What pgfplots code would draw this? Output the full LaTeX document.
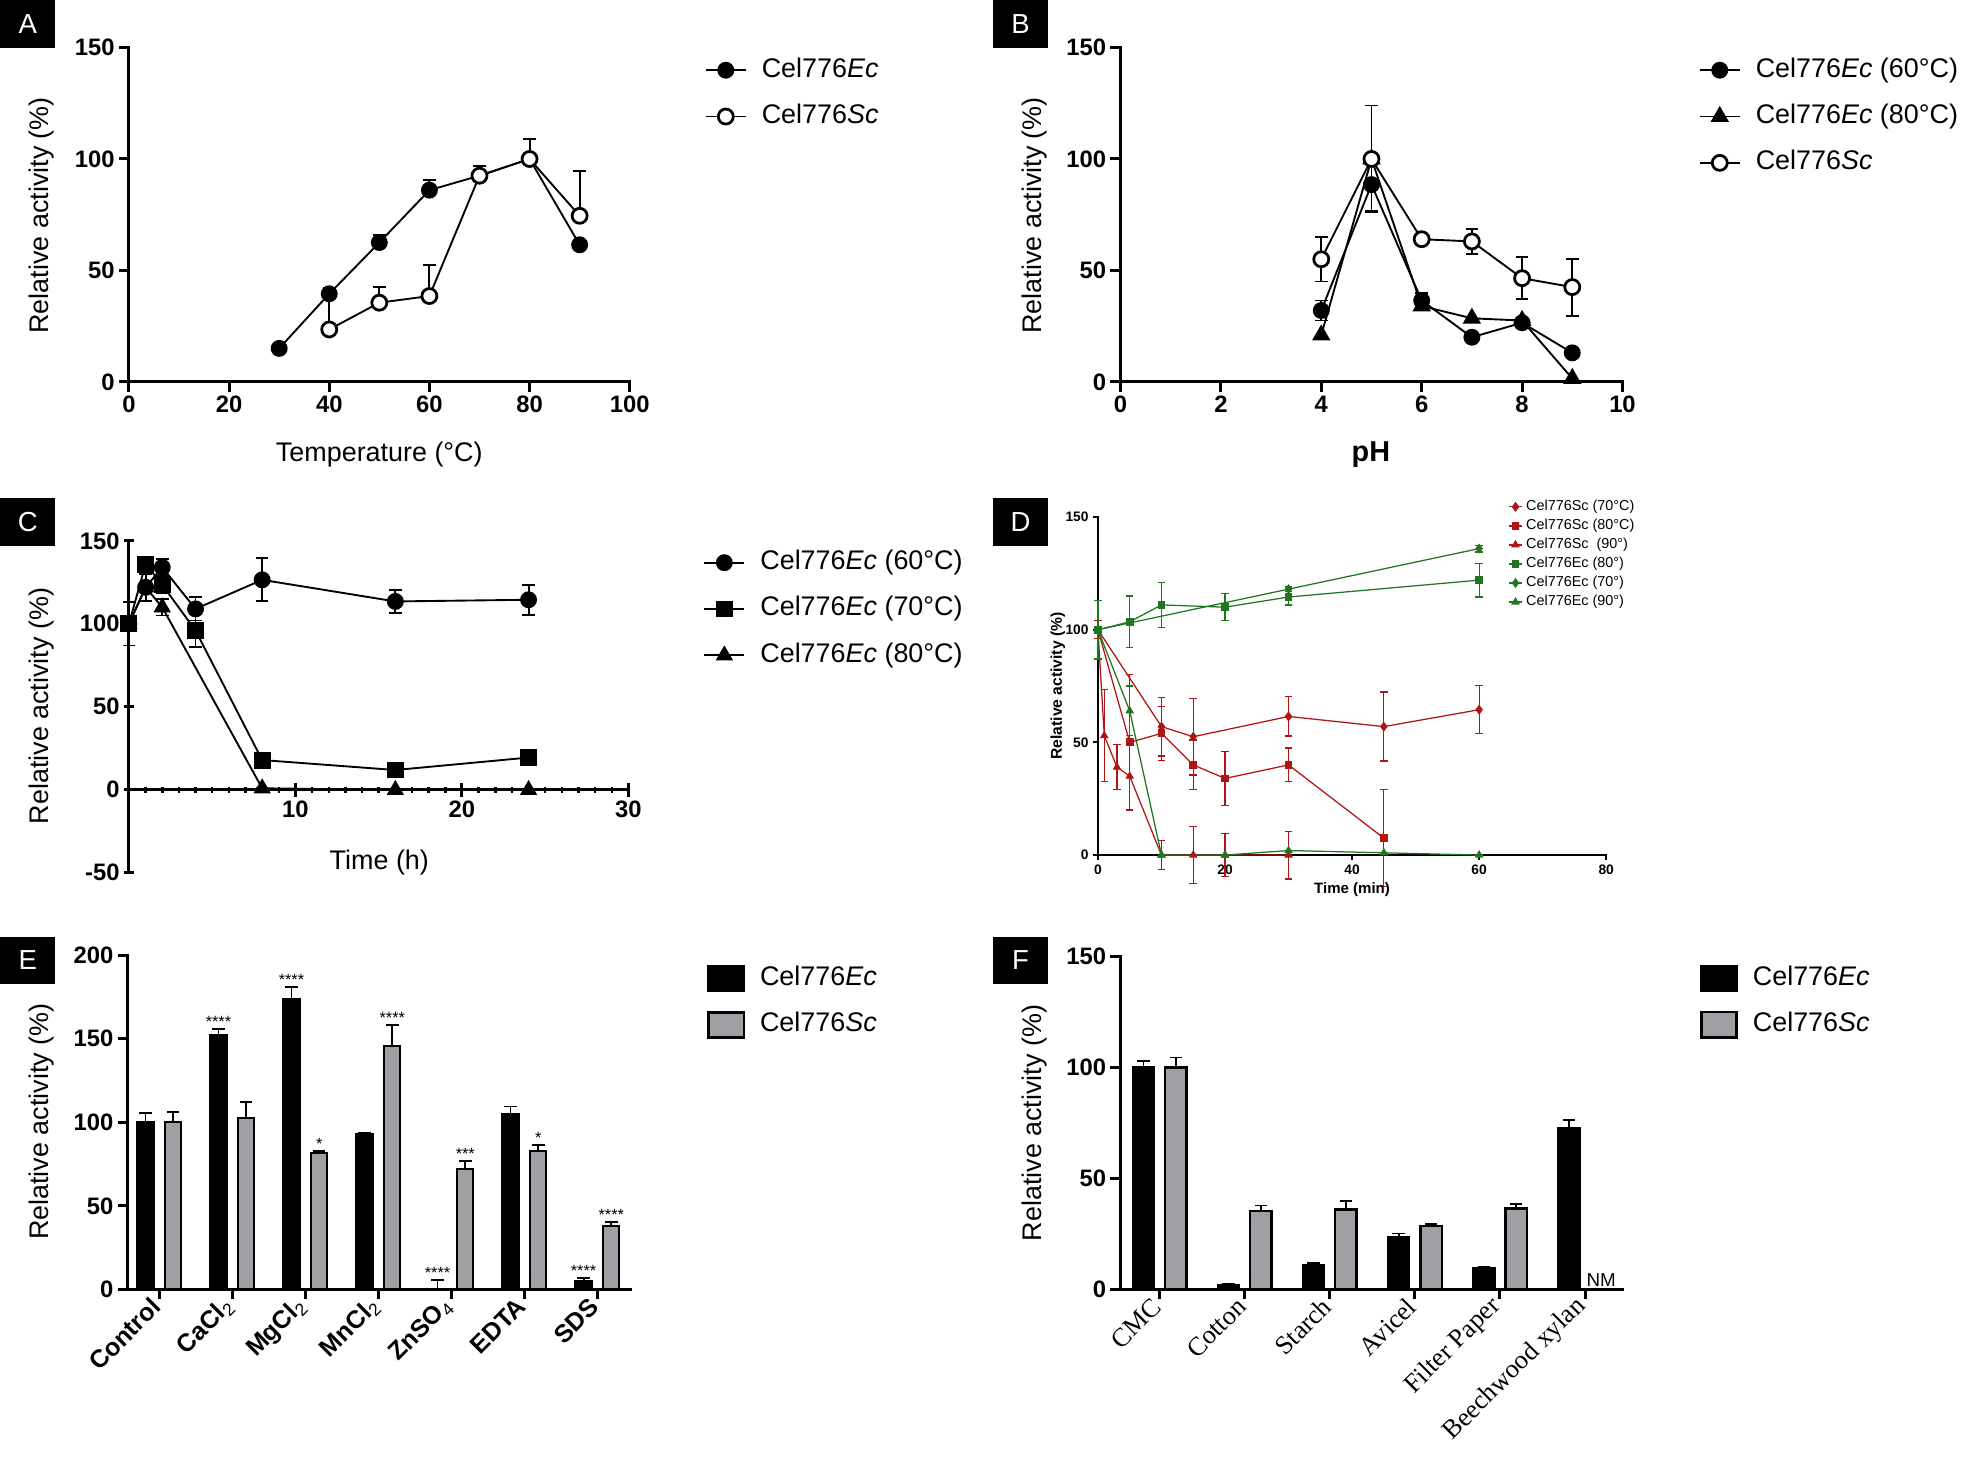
\documentclass[border=0pt]{standalone}
\usepackage{pgfplots}
\pgfplotsset{compat=1.18}
\usepackage{fontspec}
\setmainfont{Liberation Sans}
\newfontfamily\timesf{Liberation Serif}

\definecolor{dred}{RGB}{176,20,20}
\definecolor{dgreen}{RGB}{32,118,32}
\definecolor{bargray}{RGB}{160,160,164}
\newcommand{\fs}[1]{\fontsize{#1}{#1}\selectfont}

\pgfplotsset{
  prism/.style={
    scale only axis, clip=false, anchor=south west,
    axis lines=left, axis line style={-, line width=2.4pt, line cap=rect},
    tick style={line width=2.4pt, black}, tick align=outside,
    major tick length=8pt, minor tick length=6pt,
    ticklabel style={font=\bfseries\fs{19}},
    /pgf/number format/assume math mode=true,
    legend cell align=left,
    legend style={draw=none, fill=none, inner sep=0pt, outer sep=0pt, anchor=north west,
      font=\fs{21.5}, row sep=12pt,
      nodes={inner sep=2pt, text height=16pt, text depth=5pt},
      /tikz/every odd column/.append style={column sep=10pt}},
    every axis plot/.append style={line width=1.5pt, black},
    error bars/error bar style={line width=1.5pt, black},
    error bars/error mark options={rotate=90, mark size=5pt, line width=1.5pt, black},
  },
  linelegend/.style={legend image code/.code={\draw[mark repeat=2,mark phase=2,##1] plot coordinates {(0pt,0pt) (16pt,0pt) (32pt,0pt)};}},
  smalllegend/.style={legend image code/.code={\draw[mark repeat=2,mark phase=2,##1] plot coordinates {(0pt,0pt) (5pt,0pt) (10pt,0pt)};}},
  barlegend/.style={legend image code/.code={\draw[##1, line width=2pt] (0pt,-10pt) rectangle (28pt,10pt);}},
  openc/.style={mark=*, mark size=6pt, mark options={fill=white, line width=2.2pt}},
  fullc/.style={mark=*, mark size=6pt},
}

\begin{document}
\begin{tikzpicture}
\useasboundingbox (0,0) rectangle (1568pt,1164pt);

% ---------- A: temperature ----------
\begin{axis}[prism, linelegend, at={(103pt,859pt)}, width=400pt, height=267pt,
  xmin=0, xmax=100, ymin=0, ymax=150, xtick={0,20,...,100}, ytick={0,50,100,150},
  legend style={at={(axis description cs:1.15,0.979)}}]
\addplot[fullc, error bars/.cd, y dir=plus, y explicit] table[x=x, y=y, y error=e] {
x y e
30 15 0
40 39.5 2.5
50 62.5 3.5
60 86 4.5
70 92.5 4.5
80 100 9
90 61.5 0
};
\addplot[openc, error bars/.cd, y dir=plus, y explicit] table[x=x, y=y, y error=e] {
x y e
40 23.5 16
50 35.5 7
60 38.5 14
70 92.5 0
80 100 0
90 74.5 20
};
\legend{Cel776\textit{Ec}, Cel776\textit{Sc}}
\end{axis}

% ---------- B: pH ----------
\begin{axis}[prism, linelegend, at={(895pt,859pt)}, width=401pt, height=267pt,
  xmin=0, xmax=10, ymin=0, ymax=150, xtick={0,2,...,10}, ytick={0,50,100,150},
  legend style={at={(axis description cs:1.152,0.979)}}]
\addplot[fullc, error bars/.cd, y dir=both, y explicit] table[x=x, y=y, y error=e] {
x y e
4 32 4.5
5 88.5 12
6 36.5 3.5
7 20 0
8 26.5 1
9 13 0
};
\addplot[mark=triangle*, mark size=7pt] table[x=x, y=y] {
x y
4 21
5 100
6 34
7 28.5
8 27.5
9 1.5
};
\addplot[openc, error bars/.cd, y dir=both, y explicit] table[x=x, y=y, y error=e] {
x y e
4 55 10
5 100 24
6 64 1
7 63 5.5
8 46.5 9.5
9 42.5 12.8
};
\legend{Cel776\textit{Ec} (60°C), Cel776\textit{Ec} (80°C), Cel776\textit{Sc}}
\end{axis}

% ---------- C: stability (h) ----------
% y axis only (runs down to -50)
\begin{axis}[prism, at={(103pt,467pt)}, width=399pt, height=265pt,
  xmin=0, xmax=30, ymin=-50, ymax=150, axis x line=none, axis y line=left, axis line style={-},
  ytick={-50,0,50,100,150}, yticklabels={-50,0,50,100,150}]
\end{axis}
% x axis at y = 0 and the data
\begin{axis}[prism, linelegend, at={(103pt,533pt)}, width=399pt, height=199pt,
  xmin=0, xmax=30, ymin=0, ymax=150, axis y line=none, axis x line=bottom, axis line style={-},
  ytick=\empty, xtick={10,20,30}, major tick length=11pt, minor tick length=4.5pt,
  minor tick style={line width=2pt},
  minor xtick={1,2,3,4,5,6,7,8,9,11,12,13,14,15,16,17,18,19,21,22,23,24,25,26,27,28,29},
  legend style={at={(axis description cs:1.15,0.975)}}]
\addplot[fullc, error bars/.cd, y dir=both, y explicit] table[x=x, y=y, y error=e] {
x y e
0 100 13
1 122 8
2 134 5
4 109 7
8 126.5 13
16 113.5 7
24 114.5 9
};
\addplot[mark=square*, mark size=6pt, error bars/.cd, y dir=both, y explicit] table[x=x, y=y, y error=e] {
x y e
0 100 0
1 136 0
2 123.5 5
4 96 10
8 18 0
16 12 0
24 19.5 0
};
\addplot[mark=triangle*, mark size=6.5pt, error bars/.cd, y dir=both, y explicit] table[x=x, y=y, y error=e] {
x y e
0 100 0
1 122 0
2 110 5
8 1 0
16 0 0
24 0 0
};
\legend{Cel776\textit{Ec} (60°C), Cel776\textit{Ec} (70°C), Cel776\textit{Ec} (80°C)}
\end{axis}

% ---------- D: stability (min) ----------
\begin{axis}[prism, smalllegend, at={(877pt,481pt)}, width=406pt, height=270pt,
  xmin=0, xmax=80, ymin=0, ymax=150, xtick={0,20,...,80}, ytick={0,50,100,150},
  axis line style={line width=1.6pt}, tick style={line width=1.4pt}, major tick length=4pt,
  ticklabel style={font=\bfseries\fs{11}},
  every axis plot/.append style={line width=1pt},
  error bars/error bar style={line width=1pt},
  error bars/error mark options={rotate=90, mark size=3pt, line width=1pt},
  legend style={at={(axis description cs:0.808,1.056)}, font=\fs{11.5}, row sep=1.2pt,
    nodes={inner sep=1pt, text height=9pt, text depth=3pt},
    /tikz/every odd column/.append style={column sep=2pt}}]
\addplot[dred, mark=diamond*, mark size=3.2pt, mark options={fill=dred}, error bars/.cd, y dir=both, y explicit,
  error bar style={dred}, error mark options={rotate=90, mark size=3pt, line width=1pt, dred}] table[x=x, y=y, y error=e] {
x y e
0 100 4
10 57 13
15 52.5 17
30 61.5 8.7
45 57 15.3
60 64.5 10.7
};
\addplot[dred, mark=square*, mark size=2.6pt, mark options={fill=dred}, error bars/.cd, y dir=both, y explicit,
  error bar style={dred}, error mark options={rotate=90, mark size=3pt, line width=1pt, dred}] table[x=x, y=y, y error=e] {
x y e
0 100 0
5 50 30
10 54 12
15 40 11
20 34 12
30 40 7.5
45 7.5 21.5
};
\addplot[dred, mark=triangle*, mark size=3pt, mark options={fill=dred}, error bars/.cd, y dir=both, y explicit,
  error bar style={dred}, error mark options={rotate=90, mark size=3pt, line width=1pt, dred}] table[x=x, y=y, y error=e] {
x y e
0 100 4
1 53 20.5
3 39 10
5 35 15
10 0 6.5
15 0 12.6
20 0 9.6
30 0 10.6
};
\addplot[dgreen, mark=square*, mark size=2.6pt, mark options={fill=dgreen}, error bars/.cd, y dir=both, y explicit,
  error bar style={dgreen}, error mark options={rotate=90, mark size=3pt, line width=1pt, dgreen}] table[x=x, y=y, y error=e] {
x y e
0 100 13
5 103.5 11.5
10 111 10
20 110 6
30 114.5 3.5
60 122 7.5
};
\addplot[dgreen, mark=diamond*, mark size=3.2pt, mark options={fill=dgreen}, error bars/.cd, y dir=both, y explicit,
  error bar style={dgreen}, error mark options={rotate=90, mark size=3pt, line width=1pt, dgreen}] table[x=x, y=y, y error=e] {
x y e
0 100 0
30 118 1
60 136 1.5
};
\addplot[dgreen, mark=triangle*, mark size=3pt, mark options={fill=dgreen}, error bars/.cd, y dir=both, y explicit,
  error bar style={dgreen}, error mark options={rotate=90, mark size=3pt, line width=1pt, dgreen}] table[x=x, y=y, y error=e] {
x y e
0 100 0
5 64 11
10 0 0
20 0 0
30 2 0
45 1 0
60 0 0
};
\legend{Cel776Sc (70°C), Cel776Sc (80°C), Cel776Sc \ (90°), Cel776Ec (80°), Cel776Ec (70°), Cel776Ec (90°)}
\end{axis}

% ---------- E: metal ions ----------
\begin{axis}[prism, at={(102pt,134pt)}, width=402pt, height=267pt,
  xmin=-0.433, xmax=6.459, ymin=0, ymax=200, ytick={0,50,...,200},
  ybar, bar width=0.22, barlegend,
  xtick={0,...,6},
  xticklabels={Control, CaCl\textsubscript{\mdseries 2}, MgCl\textsubscript{\mdseries 2}, MnCl\textsubscript{\mdseries 2}, ZnSO\textsubscript{\mdseries 4}, EDTA, SDS},
  xticklabel style={rotate=45, anchor=east, font=\bfseries\fs{20}},
  legend style={at={(axis description cs:1.152,0.977)}}]
\addplot[fill=black, draw=black, line width=1.8pt, bar shift=-0.19, error bars/.cd, y dir=plus, y explicit] table[x=x, y=y, y error=e] {
x y e
0 100 5.5
1 152 4
2 174 7
3 93 0.7
4 0 5.5
5 105 4.5
6 5 2
};
\addplot[fill=bargray, draw=black, line width=1.8pt, bar shift=0.19, error bars/.cd, y dir=plus, y explicit] table[x=x, y=y, y error=e] {
x y e
0 100 6
1 102.5 9.5
2 81.5 1.5
3 145.5 12.5
4 72 5
5 83 3.5
6 38 2.5
};
\legend{Cel776\textit{Ec}, Cel776\textit{Sc}}
\begin{scope}[every node/.style={font=\fs{13}, anchor=south, inner sep=1pt}]
\node at (axis cs:0.81,156) {****};
\node at (axis cs:1.81,181) {****};
\node at (axis cs:2.19,83) {*};
\node at (axis cs:3.19,158) {****};
\node at (axis cs:3.81,5.5) {****};
\node at (axis cs:4.19,77) {***};
\node at (axis cs:5.19,86.5) {*};
\node at (axis cs:5.81,7) {****};
\node at (axis cs:6.19,40.5) {****};
\end{scope}
\end{axis}

% ---------- F: substrates ----------
\begin{axis}[prism, at={(895pt,134pt)}, width=401pt, height=266pt,
  xmin=-0.46, xmax=5.44, ymin=0, ymax=150, ytick={0,50,100,150},
  ybar, bar width=0.25, barlegend,
  xtick={0,...,5},
  xticklabels={CMC, Cotton, Starch, Avicel, Filter Paper, Beechwood xylan},
  xticklabel style={rotate=45, anchor=east, font=\timesf\fs{21}},
  legend style={at={(axis description cs:1.155,0.981)}}]
\addplot[fill=black, draw=black, line width=1.8pt, bar shift=-0.19, error bars/.cd, y dir=plus, y explicit] table[x=x, y=y, y error=e] {
x y e
0 100 3
1 2 0.4
2 11 0.8
3 23.5 1.7
4 9.5 0.5
5 72.5 4
};
\addplot[fill=bargray, draw=black, line width=1.8pt, bar shift=0.19, error bars/.cd, y dir=plus, y explicit] table[x=x, y=y, y error=e] {
x y e
0 100 4.5
1 35.5 2.3
2 36 4
3 28.5 1
4 36.5 2
};
\legend{Cel776\textit{Ec}, Cel776\textit{Sc}}
\node[font=\fs{15}, anchor=south, inner sep=2pt] at (axis cs:5.19,0) {NM};
\end{axis}

% ---------- labels ----------
\begin{scope}[every node/.style={font=\fs{21.5}}]
\node[rotate=90] at (33pt,992pt) {Relative activity (\%)};
\node[rotate=90] at (826pt,992pt) {Relative activity (\%)};
\node[rotate=90] at (33pt,600pt) {Relative activity (\%)};
\node[rotate=90] at (33pt,268pt) {Relative activity (\%)};
\node[rotate=90] at (826pt,267pt) {Relative activity (\%)};
\node at (303pt,801pt) {Temperature (°C)};
\node[font=\bfseries\fs{23}] at (1095pt,801pt) {pH};
\node at (303pt,475pt) {Time (h)};
\end{scope}
\node[rotate=90, font=\bfseries\fs{12.5}] at (845pt,616pt) {Relative activity (\%)};
\node[font=\bfseries\fs{12}] at (1080pt,453pt) {Time (min)};

\begin{scope}[every node/.style={fill=black, text=white, minimum width=44pt, minimum height=38pt,
  inner sep=0pt, anchor=north west, font=\fs{22}}]
\node at (0pt,1164pt) {A};
\node at (793pt,1164pt) {B};
\node at (0pt,766pt) {C};
\node at (793pt,766pt) {D};
\node at (0pt,416pt) {E};
\node at (793pt,416pt) {F};
\end{scope}
\end{tikzpicture}
\end{document}
